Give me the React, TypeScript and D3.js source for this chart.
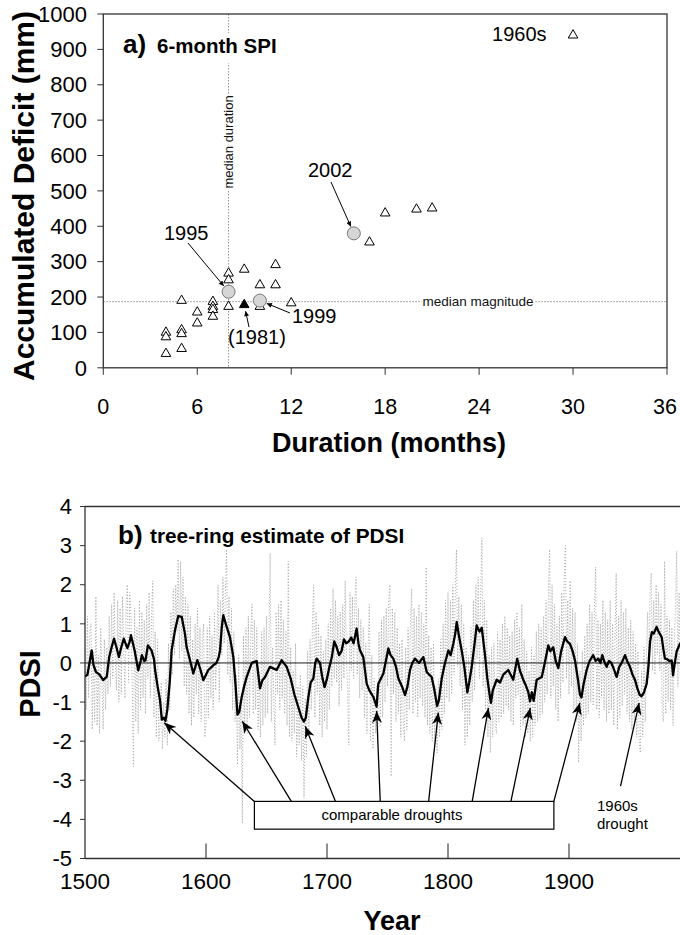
import React from "react";
import * as d3 from "d3";

// ---------------- Panel a) 6-month SPI drought events ----------------
const durationMonths = [4, 4, 4, 5, 5, 5, 5, 6, 6, 7, 7, 7, 7, 8, 8, 8, 9, 10, 10, 11, 11, 12, 17, 18, 20, 21, 30];
const deficitMm = [100, 87, 40, 190, 107, 96, 54, 157, 126, 187, 173, 164, 145, 267, 248, 173, 278, 234, 173, 291, 234, 183, 355, 437, 448, 451, 940];
const recentLabels = ["1995", "1999", "2002"];
const recentDuration = [8, 10, 16];
const recentDeficit = [215, 190, 380];
const pastLabels = ["(1981)"];
const pastDuration = [9];
const pastDeficit = [178];
const durationTicks = [0, 6, 12, 18, 24, 30, 36];
const deficitTicks = [0, 100, 200, 300, 400, 500, 600, 700, 800, 900, 1000];
const medianDuration = 8;
const medianMagnitude = 187;

// ---------------- Panel b) tree-ring PDSI ----------------
const annualStart = 1500;
const annualPDSI = [
  0.4, -1.2, 1.2, -0.9, 0.8, 1.0, -1.7, 0.3, -1.5, 1.7,
  -1.6, 0.2, -1.8, 0.9, -0.5, -1.7, 0.6, -1.2, 0.4, -0.8,
  1.2, -0.6, 1.5, -0.4, 1.8, 0.2, -0.7, 1.6, -1.0, 1.4,
  -0.8, 1.7, 0.5, -0.9, 1.5, 2.0, -0.5, 1.8, 1.2, -0.6,
  -2.65, 1.4, -1.5, 0.9, -1.8, 1.6, -1.2, 1.3, -0.9, 1.1,
  -1.3, 1.5, -0.4, 1.8, -0.9, 1.2, 2.1, -1.4, 0.8, -1.9,
  0.6, -2.0, -1.6, -0.5, -2.2, -1.0, -1.9, -0.4, -2.1, 0.5,
  -1.2, 1.3, -0.3, 1.9, 0.2, 2.0, 0.8, 2.65, 0.1, 2.6,
  0.3, 2.2, -0.6, 1.7, -0.8, 1.5, -1.3, 1.2, -1.6, 0.6,
  -1.4, 1.0, -0.8, 1.4, -1.3, 0.9, -1.5, 0.5, 1.0, -1.9,
  -1.6, 0.9, -1.4, 1.2, -0.9, 0.7, -1.2, 1.3, -0.7, 0.6,
  2.0, -1.0, 1.6, 0.2, 2.2, 0.5, 1.8, 2.9, -0.3, 1.7,
  -0.5, 1.4, -1.2, 0.8, -1.5, -0.3, -2.6, 0.2, -2.2, -1.1,
  -4.1, 0.7, -1.6, 0.9, -1.8, 1.2, -1.4, 0.8, 1.5, -1.3,
  1.1, -1.2, 0.9, -1.7, -0.2, -1.9, 0.8, -1.6, 0.9, -1.4,
  1.2, -1.3, 0.6, 2.8, -1.5, 0.4, -0.9, -2.1, 1.3, -0.8,
  1.5, -1.2, 1.6, -0.9, 1.1, -1.3, 0.8, -1.6, 2.6, -1.9,
  0.4, -2.0, -0.2, -1.8, 0.5, -2.4, -0.6, -2.1, -0.3, -2.5,
  -0.6, -3.45, -0.9, -2.4, 0.3, -1.8, 0.6, -1.2, 1.1, 2.0,
  -1.4, 1.3, -0.8, 1.0, -1.6, 0.7, -1.9, 0.3, -1.5, 0.6,
  -1.7, 1.0, -1.2, 1.4, -0.6, 1.9, -0.4, 1.6, -0.5, 1.2,
  -1.1, 1.3, -0.7, 1.5, -0.4, 2.1, 0.2, -0.6, -2.1, 1.8,
  -0.2, 1.7, -0.4, 1.6, 2.2, -0.3, 1.4, -0.9, 1.1, -0.7,
  0.9, -1.4, 0.5, -1.8, 0.4, 1.5, -2.0, 0.2, -2.2, -0.4,
  -1.8, -0.6, -2.0, 0.8, -1.6, 1.1, -1.4, 1.2, -1.0, 1.4,
  -0.6, 1.6, 2.0, -2.9, 1.4, -0.8, 1.3, -1.5, 0.9, -1.3,
  0.5, -1.9, 0.6, -1.5, -2.0, 0.4, -1.7, 0.9, -1.2, 1.1,
  1.9, -1.3, 1.4, -1.0, 1.2, -1.4, 1.5, -0.9, 1.3, -1.1,
  1.0, -1.4, 2.45, -1.6, 0.7, -1.8, 0.4, -2.0, 0.5, -2.1,
  -0.6, -2.3, -0.4, -1.9, 0.6, -1.7, 1.0, -1.3, 1.6, -0.9,
  1.8, -1.0, 1.6, -0.8, 2.0, -0.3, 1.9, 2.9, -0.1, 1.7,
  -0.6, 1.5, -1.2, 1.0, -2.1, 0.4, -1.9, 0.2, -1.6, 0.9,
  -1.0, 1.6, -0.7, 2.0, 0.1, 2.2, -0.4, 1.8, 3.2, -0.6,
  1.6, -1.2, 1.1, -1.9, 0.2, -2.3, 0.4, -1.9, 0.5, -1.6,
  -1.8, 0.8, -1.5, 0.6, -1.4, 1.0, -1.3, 1.2, -1.1, 0.9,
  -1.2, 0.7, -1.5, 0.8, -1.6, 1.1, -0.9, 1.3, -0.8, 0.9,
  -1.7, 1.5, -1.6, 0.6, -1.9, 0.3, -1.8, -0.2, -2.0, 0.4,
  -1.9, 0.2, -1.6, 0.8, -1.5, 1.0, -1.4, 0.9, -1.3, 1.2,
  -1.0, 1.6, -0.8, 1.9, 2.9, -0.9, 2.0, -0.6, 1.5, -1.2,
  1.0, -1.5, 1.2, -0.9, 1.8, -0.5, 2.2, 3.0, -0.4, 1.6,
  -0.8, 2.1, -0.6, 1.4, -1.2, 1.3, -1.5, 0.5, -2.55, -0.2,
  -2.0, 0.3, -1.6, 0.7, -1.4, 1.0, -1.3, 1.5, -1.0, 1.3,
  -1.1, 1.4, 2.45, -1.2, 1.1, -1.4, 1.0, -0.9, 1.6, -1.2,
  1.3, -1.5, 1.1, -1.3, 1.6, -1.2, 1.0, -1.6, 0.6, 2.3,
  -1.7, 1.2, -1.4, 1.6, -1.1, 1.3, -0.8, 1.4, -1.3, 0.9,
  -1.5, 1.1, -1.7, 0.8, -1.6, 0.5, -1.9, 0.3, -2.0, -2.3,
  -0.2, -1.9, 0.4, -1.5, 0.2, 1.3, -0.4, 1.8, 2.3, -0.2,
  1.6, -0.3, 2.0, 0.2, 1.8, -0.2, 1.5, -1.2, -1.5, 2.6,
  -1.3, 1.2, -1.0, 1.1, -1.2, 0.9, -1.6, 0.6, 1.4, 2.85,
  -0.6, 1.8, -0.4, 1.5, -0.8, 1.2, 0.3, -0.5,
];

const smoothYear = [
  1500, 1502, 1504, 1505.5, 1507, 1509, 1512, 1515, 1518, 1520, 1522, 1524, 1526, 1528, 1530, 1532, 1535, 1537, 1538, 1541,
  1544, 1546, 1547, 1549, 1550, 1552, 1555, 1557, 1558, 1560, 1562, 1563.5, 1565, 1566.5, 1568, 1570, 1571.6, 1574.4, 1577.1, 1579.9,
  1582.6, 1584, 1586.8, 1589.5, 1592.8, 1595, 1597.8, 1601.9, 1606, 1608.7, 1610.5, 1611.6, 1613, 1614.3, 1617.1, 1619.8, 1622.6, 1624.5, 1626, 1627.5,
  1629.5, 1631.5, 1633.6, 1637.8, 1641.9, 1644.6, 1646.5, 1648.8, 1652.9, 1658.4, 1662.5, 1666.7, 1670, 1673, 1676, 1679, 1681, 1682.5, 1684.6, 1686.5,
  1688.7, 1690.3, 1691.5, 1694.2, 1696, 1698, 1700, 1702, 1704, 1706, 1708, 1710, 1712, 1714, 1716, 1718, 1720, 1722, 1724.5, 1726,
  1727.3, 1730, 1732.8, 1735, 1738.3, 1741, 1742.4, 1746.6, 1750.7, 1752.5, 1754.8, 1757, 1759, 1762, 1764.5, 1766.5, 1768.6, 1770.5, 1772.7, 1776,
  1779.6, 1782.4, 1784.5, 1786.5, 1788.8, 1791, 1792.5, 1794.8, 1797.5, 1800.3, 1802.2, 1804.4, 1806, 1807.2, 1809, 1811.3, 1813.5, 1816, 1817.5, 1819.6,
  1822, 1823.7, 1826, 1827.9, 1830.6, 1832.5, 1834.7, 1835.5, 1837, 1840.2, 1843, 1845.7, 1849.8, 1853.9, 1857.2, 1859.5, 1862.2, 1864, 1866.4, 1867.8,
  1869.3, 1870.8, 1873.3, 1877.5, 1880, 1882.9, 1884.5, 1887, 1889, 1891.2, 1893.5, 1896.7, 1898.5, 1900.8, 1903, 1905, 1907.5, 1909, 1910.3, 1912,
  1914.6, 1917, 1920, 1922, 1924.2, 1926, 1927.5, 1929, 1931.1, 1933, 1935, 1937, 1939.4, 1941.5, 1943.5, 1946.3, 1948, 1950.4, 1952.5, 1954.5,
  1956.5, 1958.5, 1960, 1962, 1964.2, 1965.6, 1967, 1968.5, 1970, 1972.4, 1974, 1976.6, 1978, 1979.3, 1981, 1983, 1984.9, 1986, 1987.2, 1989,
  1991.7, 1994, 1997,
];
const smoothPDSI = [
  -0.35, -0.3, 0.05, 0.32, -0.05, -0.23, -0.3, -0.44, -0.35, 0.15, 0.4, 0.62, 0.4, 0.15, 0.4, 0.62, 0.38, 0.55, 0.71, 0.32,
  -0.19, 0.05, 0.2, 0.05, 0.07, 0.45, 0.32, 0.1, -0.2, -0.6, -0.95, -1.45, -1.4, -1.48, -1.2, -0.5, 0.32, 0.84, 1.2, 1.18,
  0.75, 0.4, 0.07, -0.27, 0.07, -0.13, -0.44, -0.18, -0.06, 0.0, 0.15, 0.32, 0.9, 1.22, 0.92, 0.66, 0.15, -0.6, -1.32, -1.25,
  -0.87, -0.6, -0.36, 0.0, 0.05, -0.65, -0.45, -0.36, -0.1, -0.18, 0.07, -0.1, -0.4, -0.8, -1.1, -1.4, -1.5, -1.4, -0.87, -0.5,
  -0.4, 0.0, 0.11, 0.0, -0.35, -0.62, -0.4, -0.1, 0.15, 0.55, 0.4, 0.2, 0.3, 0.6, 0.5, 0.55, 0.65, 0.5, 0.88, 0.5,
  0.32, 0.15, -0.53, -0.7, -0.87, -1.12, -0.53, -0.27, 0.37, 0.2, 0.11, -0.1, -0.4, -0.6, -0.82, -0.6, -0.18, 0.0, 0.11, 0.0,
  0.15, -0.23, -0.3, -0.36, -0.7, -1.1, -0.95, -0.4, 0.0, 0.32, 0.2, 0.49, 0.75, 1.05, 0.7, 0.32, -0.1, -0.75, -0.5, -0.1,
  0.5, 0.96, 0.8, 0.9, 0.2, -0.4, -0.87, -1.02, -0.7, -0.43, -0.5, -0.3, -0.18, -0.43, 0.11, -0.2, -0.43, -0.55, -0.75, -0.98,
  -0.75, -0.97, -0.43, -0.36, 0.0, 0.45, 0.3, 0.4, 0.05, -0.13, 0.3, 0.66, 0.55, 0.49, 0.3, 0.06, -0.45, -0.8, -0.88, -0.55,
  -0.18, 0.05, 0.2, 0.05, 0.11, 0.0, 0.2, 0.05, -0.1, 0.05, 0.0, -0.15, -0.36, -0.1, 0.0, 0.2, 0.05, -0.1, -0.3, -0.43,
  -0.65, -0.82, -0.85, -0.75, -0.53, -0.1, 0.55, 0.79, 0.75, 0.92, 0.8, 0.66, 0.35, 0.11, 0.1, 0.05, 0.06, -0.32, -0.05, 0.3,
  0.49, 0.45, 0.35,
];
const yearTicks = [1500, 1600, 1700, 1800, 1900];
const pdsiTicks = [-5, -4, -3, -2, -1, 0, 1, 2, 3, 4];
const droughtTipYear = [1565.5, 1630, 1682, 1741, 1792, 1833.4, 1868, 1909];
const droughtTipPDSI = [-1.53, -1.49, -1.62, -1.23, -1.27, -1.15, -1.15, -1.02];
const droughtTailYear = [1640, 1670.5, 1707, 1744, 1784, 1820, 1852, 1887.5];
const boxYears = [1640, 1887.5];
const boxPDSI = [-3.54, -4.25];
const drought1960sTip = [1958, -1.02];
const drought1960sTail = [1942.6, -3.15];

// ---------------- layout ----------------
const W = 680;
const H = 935;
const FONT = "'Liberation Sans', Arial, Helvetica, sans-serif";

const xA = d3.scaleLinear().domain([0, 36]).range([103.3, 667]);
const yA = d3.scaleLinear().domain([0, 1000]).range([367.8, 14]);
const xB = d3.scaleLinear().domain([1500, 2000]).range([85, 690]);
const yB = d3.scaleLinear().domain([-5, 4]).range([858.5, 506.5]);

const triPath = d3.symbol().type(d3.symbolTriangle).size(40)() as string;

function pullBack(x1: number, y1: number, x2: number, y2: number, by: number) {
  const dx = x2 - x1;
  const dy = y2 - y1;
  const L = Math.sqrt(dx * dx + dy * dy);
  return [x2 - (dx / L) * by, y2 - (dy / L) * by];
}

export default function App() {
  const annualLine = d3
    .line<number>()
    .x((_, i) => xB(annualStart + i))
    .y((d) => yB(d));
  const smoothLine = d3
    .line<number>()
    .x((_, i) => xB(smoothYear[i]))
    .y((d) => yB(d));

  const recentTails: [number, number][] = [
    [188, 243],
    [290, 313],
    [331, 182],
  ];
  const recentTextPos: [number, number][] = [
    [164, 240],
    [292, 323],
    [308, 177],
  ];

  const halo = { stroke: "#fff", strokeWidth: 4, paintOrder: "stroke" as const, strokeLinejoin: "round" as const };

  return (
    <div style={{ position: "absolute", left: 0, top: 0, width: W, height: H, background: "#fff" }}>
      <svg width={W} height={H} style={{ display: "block" }} fontFamily={FONT}>
        <defs>
          <marker id="ahA" viewBox="0 0 10 10" refX="10" refY="5" markerWidth="7" markerHeight="5" markerUnits="userSpaceOnUse" orient="auto">
            <path d="M0,0L10,5L0,10z" fill="#000" />
          </marker>
          <marker id="ahB" viewBox="0 0 12 10" refX="12" refY="5" markerWidth="13" markerHeight="10" markerUnits="userSpaceOnUse" orient="auto">
            <path d="M0,0L12,5L0,10L3.5,5z" fill="#000" />
          </marker>
          <clipPath id="clipB">
            <rect x={xB(1500)} y={yB(4)} width={xB(2000) - xB(1500)} height={yB(-5) - yB(4)} />
          </clipPath>
        </defs>
        <rect width={W} height={H} fill="#fff" />

        {/* ================= PANEL A ================= */}
        <line x1={xA(medianDuration)} x2={xA(medianDuration)} y1={yA(1000)} y2={yA(0)} stroke="#888" strokeWidth={0.9} strokeDasharray="1.5 1.5" />
        <line x1={xA(0)} x2={xA(36)} y1={yA(medianMagnitude)} y2={yA(medianMagnitude)} stroke="#888" strokeWidth={0.9} strokeDasharray="1.5 1.5" />
        <text
          transform={`translate(${xA(medianDuration)},142) rotate(-90)`}
          textAnchor="middle"
          dy="0.35em"
          fontSize={13}
          fill="#111"
          {...halo}
        >
          median duration
        </text>
        <text x={478} y={yA(medianMagnitude)} dy="0.35em" textAnchor="middle" fontSize={13.5} fill="#111" {...halo}>
          median magnitude
        </text>

        <rect x={150} y={33} width={130} height={30} fill="#fff" />
        <text x={123} y={53} fontSize={26} fontWeight="bold">
          a)
        </text>
        <text x={157} y={53} fontSize={20.5} fontWeight="bold">
          6-month SPI
        </text>

        <rect x={xA(0)} y={yA(1000)} width={xA(36) - xA(0)} height={yA(0) - yA(1000)} fill="none" stroke="#333" strokeWidth={1.3} />

        {durationMonths.map((d, i) => (
          <path key={"t" + i} d={triPath} transform={`translate(${xA(d)},${yA(deficitMm[i])})`} fill="#fff" stroke="#000" strokeWidth={1} />
        ))}
        {pastDuration.map((d, i) => (
          <path key={"p" + i} d={triPath} transform={`translate(${xA(d)},${yA(pastDeficit[i])})`} fill="#000" stroke="#000" strokeWidth={1} />
        ))}
        {recentDuration.map((d, i) => (
          <circle key={"c" + i} cx={xA(d)} cy={yA(recentDeficit[i])} r={6.5} fill="#d6d6d6" stroke="#777" strokeWidth={1} />
        ))}

        {recentDuration.map((d, i) => {
          const [tx, ty] = recentTails[i];
          const [hx, hy] = pullBack(tx, ty, xA(d), yA(recentDeficit[i]), 7.5);
          return (
            <g key={"a" + i}>
              <line x1={tx} y1={ty} x2={hx} y2={hy} stroke="#000" strokeWidth={1} markerEnd="url(#ahA)" />
              <text x={recentTextPos[i][0]} y={recentTextPos[i][1]} fontSize={20}>
                {recentLabels[i]}
              </text>
            </g>
          );
        })}
        {pastDuration.map((d, i) => {
          const [hx, hy] = pullBack(249, 327, xA(d), yA(pastDeficit[i]), 6.5);
          return (
            <g key={"pa" + i}>
              <line x1={249} y1={327} x2={hx} y2={hy} stroke="#000" strokeWidth={1} markerEnd="url(#ahA)" />
              <text x={228} y={344} fontSize={20}>
                {pastLabels[i]}
              </text>
            </g>
          );
        })}
        <text x={xA(30) - 81} y={41} fontSize={20}>
          1960s
        </text>

        {deficitTicks.map((t) => (
          <g key={"yt" + t}>
            <line x1={xA(0) - 6} x2={xA(0)} y1={yA(t)} y2={yA(t)} stroke="#333" strokeWidth={1} />
            <text x={87} y={yA(t)} dy="0.35em" textAnchor="end" fontSize={22}>
              {t}
            </text>
          </g>
        ))}
        {durationTicks.map((t) => (
          <g key={"xt" + t}>
            <line x1={xA(t)} x2={xA(t)} y1={yA(0)} y2={yA(0) + 7} stroke="#333" strokeWidth={1} />
            <text x={Math.min(xA(t), 665)} y={414} textAnchor="middle" fontSize={21.5}>
              {t}
            </text>
          </g>
        ))}
        <text transform="translate(33.5,196) rotate(-90)" textAnchor="middle" fontSize={30} fontWeight="bold">
          Accumulated Deficit (mm)
        </text>
        <text x={389} y={452} textAnchor="middle" fontSize={27} fontWeight="bold">
          Duration (months)
        </text>

        {/* ================= PANEL B ================= */}
        <g clipPath="url(#clipB)">
          <path d={annualLine(annualPDSI) as string} fill="none" stroke="#aaaaaa" strokeWidth={0.9} strokeDasharray="1.2 1.8" />
          <line x1={xB(1500)} x2={xB(2000)} y1={yB(0)} y2={yB(0)} stroke="#000" strokeWidth={0.9} />
          <path d={smoothLine(smoothPDSI) as string} fill="none" stroke="#000" strokeWidth={2.3} strokeLinejoin="round" />
        </g>

        <line x1={xB(1500)} x2={W} y1={yB(4)} y2={yB(4)} stroke="#333" strokeWidth={1.3} />
        <line x1={xB(1500)} x2={W} y1={yB(-5)} y2={yB(-5)} stroke="#333" strokeWidth={1.3} />
        <line x1={xB(1500)} x2={xB(1500)} y1={yB(4)} y2={yB(-5)} stroke="#333" strokeWidth={1.3} />

        <text x={118} y={544} fontSize={26} fontWeight="bold">
          b)
        </text>
        <text x={150} y={543} fontSize={20.8} fontWeight="bold">
          tree-ring estimate of PDSI
        </text>

        {droughtTipYear.map((yr, i) => (
          <line
            key={"da" + i}
            x1={xB(droughtTailYear[i])}
            y1={yB(boxPDSI[0])}
            x2={xB(yr)}
            y2={yB(droughtTipPDSI[i])}
            stroke="#000"
            strokeWidth={1.3}
            markerEnd="url(#ahB)"
          />
        ))}
        <line
          x1={xB(drought1960sTail[0])}
          y1={yB(drought1960sTail[1])}
          x2={xB(drought1960sTip[0])}
          y2={yB(drought1960sTip[1])}
          stroke="#000"
          strokeWidth={1.3}
          markerEnd="url(#ahB)"
        />
        <rect
          x={xB(boxYears[0])}
          y={yB(boxPDSI[0])}
          width={xB(boxYears[1]) - xB(boxYears[0])}
          height={yB(boxPDSI[1]) - yB(boxPDSI[0])}
          fill="#fff"
          stroke="#000"
          strokeWidth={1.2}
        />
        <text x={392} y={820} textAnchor="middle" fontSize={15}>
          comparable droughts
        </text>
        <text x={597} y={811} fontSize={15}>
          1960s
        </text>
        <text x={597} y={829} fontSize={15}>
          drought
        </text>

        {pdsiTicks.map((t) => (
          <g key={"pt" + t}>
            <line x1={xB(1500) - 5} x2={xB(1500)} y1={yB(t)} y2={yB(t)} stroke="#333" strokeWidth={1} />
            <text x={72} y={yB(t)} dy="0.35em" textAnchor="end" fontSize={22}>
              {t}
            </text>
          </g>
        ))}
        {yearTicks.map((t) => (
          <g key={"yr" + t}>
            {t > 1500 && <line x1={xB(t)} x2={xB(t)} y1={yB(-5)} y2={yB(-5) - 15} stroke="#333" strokeWidth={1.1} />}
            <text x={xB(t)} y={889} textAnchor="middle" fontSize={22.5}>
              {t}
            </text>
          </g>
        ))}
        <text transform="translate(40,684) rotate(-90)" textAnchor="middle" fontSize={29} fontWeight="bold">
          PDSI
        </text>
        <text x={392} y={930} textAnchor="middle" fontSize={27} fontWeight="bold">
          Year
        </text>
      </svg>
    </div>
  );
}
